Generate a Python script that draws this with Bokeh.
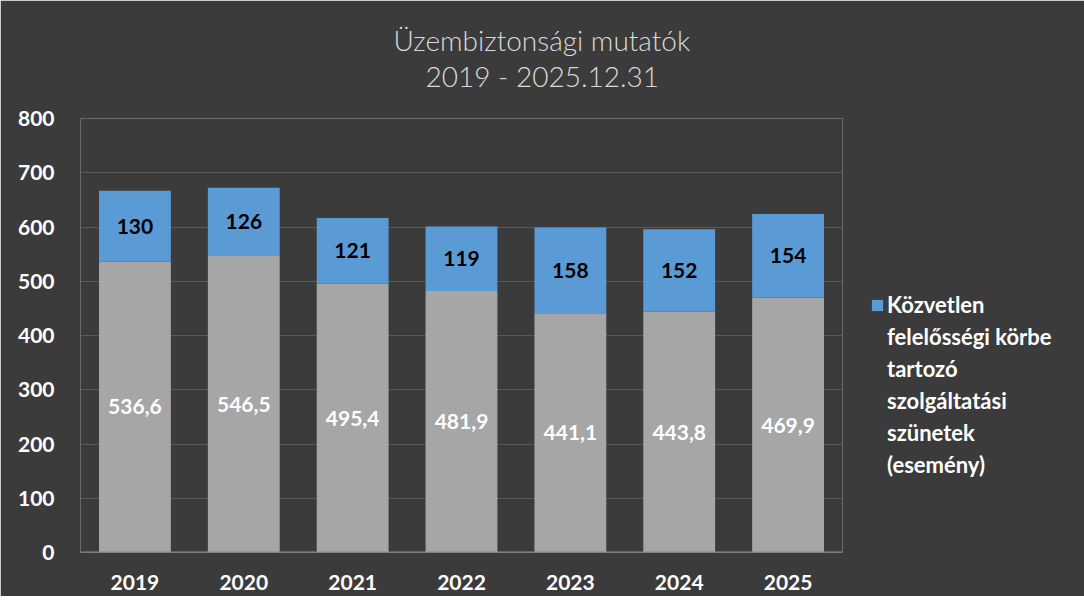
from bokeh.plotting import figure
from bokeh.models import ColumnDataSource, LabelSet, Legend, LegendItem, Title, Span
from bokeh.core.properties import value
from bokeh.embed import file_html
from bokeh.resources import INLINE

years = ["2019", "2020", "2021", "2022", "2023", "2024", "2025"]
base_values = [536.6, 546.5, 495.4, 481.9, 441.1, 443.8, 469.9]
event_values = [130, 126, 121, 119, 158, 152, 154]
y_ticks = [0, 100, 200, 300, 400, 500, 600, 700, 800]
legend_lines = ["Közvetlen", "felelősségi körbe", "tartozó", "szolgáltatási",
                "szünetek", "(esemény)"]
title_line1 = "Üzembiztonsági mutatók"
title_line2 = "2019 - 2025.12.31"

BG = "#3b3b3b"
FONT = "Lato"
TFONT = "Lato Light, Lato, sans-serif"

src = ColumnDataSource(dict(
    year=years,
    base=base_values,
    event=event_values,
    base_mid=[b / 2 for b in base_values],
    event_mid=[b + e / 2 for b, e in zip(base_values, event_values)],
    base_txt=[f"{b:.1f}".replace(".", ",") for b in base_values],
    event_txt=[str(e) for e in event_values],
))

p = figure(x_range=years, y_range=(0, 800), frame_width=762, frame_height=434,
           output_backend="svg", toolbar_location=None,
           min_border_left=80, min_border_right=226,
           min_border_top=118, min_border_bottom=44)
p.background_fill_color = BG
p.border_fill_color = BG
p.outline_line_color = None

r = p.vbar_stack(["base", "event"], x="year", width=0.66, source=src,
                 color=["#a6a6a6", "#5b9bd5"], line_color=None)

p.add_layout(LabelSet(x="year", y="base_mid", text="base_txt", source=src,
                      text_align="center", text_baseline="middle",
                      text_color="white", text_font_style="bold",
                      text_font_size="21px", text_font=value(FONT)))
p.add_layout(LabelSet(x="year", y="event_mid", text="event_txt", source=src,
                      text_align="center", text_baseline="middle",
                      text_color="black", text_font_style="bold",
                      text_font_size="21px", text_font=value(FONT)))

p.yaxis.ticker = y_ticks
for ax in (p.xaxis[0], p.yaxis[0]):
    ax.axis_line_color = None
    ax.major_tick_line_color = None
    ax.minor_tick_line_color = None
    ax.major_label_text_color = "white"
    ax.major_label_text_font_style = "bold"
    ax.major_label_text_font_size = "21px"
    ax.major_label_text_font = FONT
p.yaxis.major_label_standoff = 20
p.xaxis.major_label_standoff = 16
p.xgrid.grid_line_color = None
p.ygrid.grid_line_color = "#595959"
p.ygrid.grid_line_width = 1

p.add_layout(Span(location=0, dimension="width", line_color="#8c8c8c", line_width=2))

# legend: blank spacer rows, one coloured entry, then continuation lines
blank = p.scatter(x=[], y=[], alpha=0)
items = [LegendItem(label=" ", renderers=[blank]) for _ in range(5)]
items += [LegendItem(label=legend_lines[0], renderers=[r[1]])]
items += [LegendItem(label=t, renderers=[blank]) for t in legend_lines[1:]]
legend = Legend(items=items, location="top_left", orientation="vertical",
                background_fill_alpha=0, border_line_color=None,
                padding=0, margin=28, spacing=5,
                label_text_color="white", label_text_font_style="bold",
                label_text_font_size="22px", label_text_font=FONT,
                label_height=24, glyph_width=14, glyph_height=14,
                label_standoff=3)
p.add_layout(legend, "right")

# two-line title (spacer row next to the frame, then line 2, then line 1)
p.add_layout(Title(text=" ", text_font_size="14px", standoff=8), "above")
p.add_layout(Title(text=title_line2, align="left", offset=345, standoff=0,
                   text_color="#d9d9d9", text_font_size="28px",
                   text_font_style="normal", text_font=TFONT), "above")
p.add_layout(Title(text=title_line1, align="left", offset=313, standoff=0,
                   text_color="#d9d9d9", text_font_size="28px",
                   text_font_style="normal", text_font=TFONT), "above")

open("out.html", "w").write(file_html(p, INLINE))
